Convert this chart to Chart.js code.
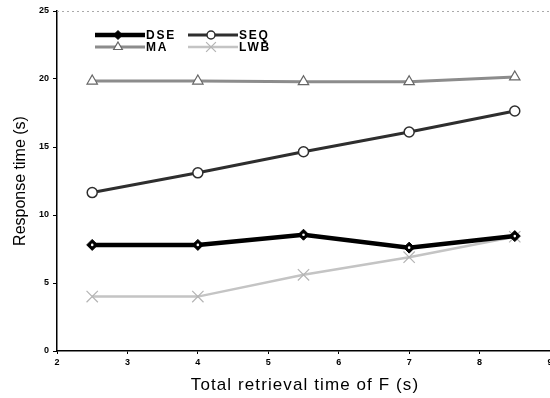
<!DOCTYPE html>
<html>
<head>
<meta charset="utf-8">
<script src="https://cdn.jsdelivr.net/npm/chart.js@4.4.0/dist/chart.umd.min.js"></script>
<style>
  html, body { margin: 0; padding: 0; background: #fff; }
  #wrap { width: 550px; height: 398px; }
</style>
</head>
<body>
<div id="wrap"><canvas id="chart"></canvas></div>
<script>
// data
var xValues = [2.5, 4, 5.5, 7, 8.5];
var dse = [7.8, 7.8, 8.55, 7.6, 8.45];
var seq = [11.65, 13.1, 14.65, 16.1, 17.65];
var ma  = [19.85, 19.85, 19.8, 19.8, 20.15];
var lwb = [4.0, 4.0, 5.6, 6.9, 8.4];
var xTicks = [2, 3, 4, 5, 6, 7, 8, 9];
var yTicks = [0, 5, 10, 15, 20, 25];
var xTitle = 'Total retrieval time of F (s)';

function pts(ys){
    return xValues.map(function(x, i){ return { x: x, y: ys[i] }; });
}

// draw a marker in the legend, same look as the series
function drawMarker(ctx, ds, x, y){
    var r = ds.pointRadius;
    ctx.save();
    ctx.lineWidth = ds.pointBorderWidth;
    ctx.strokeStyle = ds.pointBorderColor;
    ctx.fillStyle = ds.pointBackgroundColor;
    ctx.beginPath();
    if(ds.pointStyle === 'rectRot'){
        ctx.moveTo(x, y - r); ctx.lineTo(x + r, y); ctx.lineTo(x, y + r); ctx.lineTo(x - r, y); ctx.closePath();
        ctx.fill(); ctx.stroke();
    } else if(ds.pointStyle === 'circle'){
        ctx.arc(x, y, r, 0, Math.PI * 2); ctx.fill(); ctx.stroke();
    } else if(ds.pointStyle === 'triangle'){
        ctx.moveTo(x, y - r); ctx.lineTo(x + r * 0.87, y + r * 0.5); ctx.lineTo(x - r * 0.87, y + r * 0.5); ctx.closePath();
        ctx.fill(); ctx.stroke();
    } else {
        ctx.moveTo(x - r * 0.7, y - r * 0.7); ctx.lineTo(x + r * 0.7, y + r * 0.7);
        ctx.moveTo(x + r * 0.7, y - r * 0.7); ctx.lineTo(x - r * 0.7, y + r * 0.7);
        ctx.stroke();
    }
    ctx.restore();
}

var legendSpots = [
    { ds: 0, x: 95, y: 35 },
    { ds: 1, x: 188, y: 35 },
    { ds: 2, x: 95, y: 47 },
    { ds: 3, x: 188, y: 47 }
];

var extras = {
    id: 'extras',
    beforeDatasetsDraw: function(chart){
        var ctx = chart.ctx, a = chart.chartArea;
        // faint dotted top border
        ctx.save();
        ctx.strokeStyle = '#aaa';
        ctx.lineWidth = 1;
        ctx.setLineDash([2, 3]);
        ctx.beginPath();
        ctx.moveTo(a.left, a.top + 0.5);
        ctx.lineTo(a.right, a.top + 0.5);
        ctx.stroke();
        ctx.restore();
    },
    afterDatasetsDraw: function(chart){
        // white dot in the middle of the DSE diamonds
        var ctx = chart.ctx;
        chart.getDatasetMeta(0).data.forEach(function(p){
            ctx.save();
            ctx.fillStyle = '#fff';
            ctx.beginPath();
            ctx.arc(p.x, p.y, 1.3, 0, Math.PI * 2);
            ctx.fill();
            ctx.restore();
        });
    },
    afterDraw: function(chart){
        var ctx = chart.ctx;
        legendSpots.forEach(function(s){
            var ds = chart.data.datasets[s.ds];
            ctx.save();
            ctx.strokeStyle = ds.borderColor;
            ctx.lineWidth = ds.borderWidth;
            ctx.beginPath();
            ctx.moveTo(s.x, s.y);
            ctx.lineTo(s.x + 50, s.y);
            ctx.stroke();
            ctx.restore();
            drawMarker(ctx, Object.assign({}, ds, { pointRadius: ds.pointRadius - 1 }), s.x + 23, s.y);
            ctx.save();
            ctx.fillStyle = '#000';
            ctx.font = 'bold 12px "Liberation Sans", Arial, sans-serif';
            ctx.letterSpacing = '1.8px';
            ctx.textBaseline = 'middle';
            ctx.fillText(ds.label, s.x + 51, s.y + 1);
            ctx.restore();
        });
        // x axis title, letter-spaced like the original
        ctx.save();
        ctx.fillStyle = '#000';
        ctx.font = '17px "Liberation Sans", Arial, sans-serif';
        ctx.letterSpacing = '1.1px';
        ctx.textBaseline = 'alphabetic';
        var w = ctx.measureText(xTitle).width;
        ctx.fillText(xTitle, 305 - w / 2, 390);
        ctx.restore();
    }
};

new Chart(document.getElementById('chart'), {
    type: 'line',
    data: {
        datasets: [
            { label: 'DSE', data: pts(dse), borderColor: '#000', borderWidth: 4.5,
              pointStyle: 'rectRot', pointRadius: 5.5, pointBackgroundColor: '#000',
              pointBorderColor: '#000', pointBorderWidth: 1, order: 0 },
            { label: 'SEQ', data: pts(seq), borderColor: '#2e2e2e', borderWidth: 3,
              pointStyle: 'circle', pointRadius: 5, pointBackgroundColor: '#fff',
              pointBorderColor: '#2e2e2e', pointBorderWidth: 1.5, order: 1 },
            { label: 'MA', data: pts(ma), borderColor: '#8c8c8c', borderWidth: 3,
              pointStyle: 'triangle', pointRadius: 6, pointBackgroundColor: '#fff',
              pointBorderColor: '#666', pointBorderWidth: 1.2, order: 2 },
            { label: 'LWB', data: pts(lwb), borderColor: '#c4c4c4', borderWidth: 2.5,
              pointStyle: 'crossRot', pointRadius: 8, pointBackgroundColor: '#fff',
              pointBorderColor: '#b4b4b4', pointBorderWidth: 1.2, order: 3 }
        ]
    },
    options: {
        responsive: true,
        maintainAspectRatio: false,
        animation: false,
        layout: { autoPadding: false, padding: { top: 11, right: 0, left: 0, bottom: 0 } },
        plugins: { legend: { display: false }, tooltip: { enabled: false } },
        scales: {
            x: {
                type: 'linear', min: 2, max: 9,
                afterBuildTicks: function(s){ s.ticks = xTicks.map(function(v){ return { value: v }; }); },
                afterFit: function(s){ s.height = 47; s.paddingRight = 0; s.paddingLeft = 0; },
                border: { color: '#000', width: 1.5 },
                grid: { display: true, drawOnChartArea: false, tickLength: 3, color: '#000' },
                ticks: { color: '#000', padding: 3, maxRotation: 0,
                         font: { family: '"Liberation Sans", Arial, sans-serif', size: 9, weight: 'bold' } },
                title: { display: false }
            },
            y: {
                min: 0, max: 25,
                afterBuildTicks: function(s){ s.ticks = yTicks.map(function(v){ return { value: v }; }); },
                afterFit: function(s){ s.width = 57; s.paddingTop = 0; s.paddingBottom = 0; },
                border: { color: '#000', width: 1.5 },
                grid: { display: true, drawOnChartArea: false, tickLength: 4, color: '#000' },
                ticks: { color: '#000', padding: 4,
                         font: { family: '"Liberation Sans", Arial, sans-serif', size: 9, weight: 'bold' } },
                title: { display: true, text: 'Response time (s)', color: '#000',
                         padding: { top: 11, bottom: 0 },
                         font: { family: '"Liberation Sans", Arial, sans-serif', size: 16 } }
            }
        }
    },
    plugins: [extras]
});
</script>
</body>
</html>
